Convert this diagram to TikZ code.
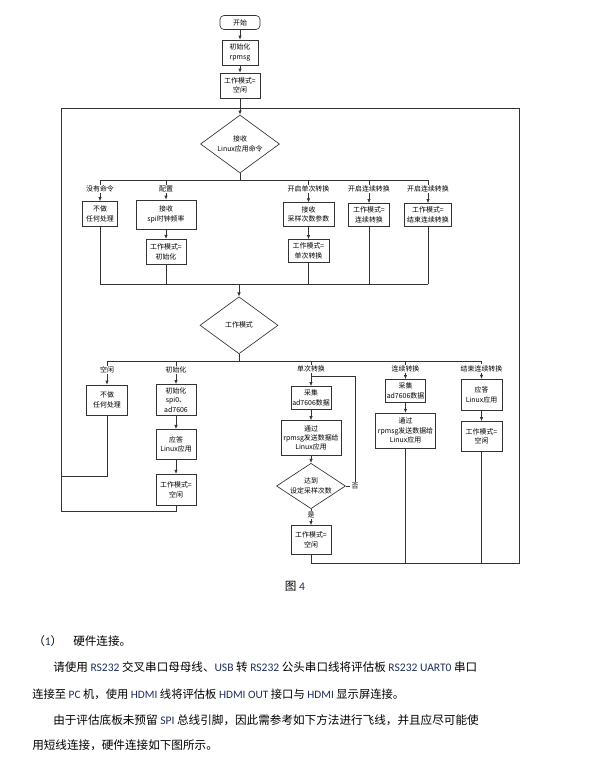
\documentclass[tikz,border=0pt]{standalone}
\usepackage{fontspec}
\setmainfont{Noto Sans CJK SC}
\newfontfamily\latfont{Carlito}
\usetikzlibrary{shapes.geometric,arrows.meta}
\definecolor{latblue}{RGB}{30,45,90}
\newcommand{\en}[1]{{\latfont\color{latblue}#1}}

\begin{document}
\begin{tikzpicture}[x=0.75pt, y=-0.75pt,
    line/.style={draw=black!80, line width=0.5pt},
    arr/.style={line, -{Latex[length=3pt,width=2.6pt]}},
    sz/.style 2 args={minimum width={#1*0.75pt}, minimum height={#2*0.75pt}},
    box/.style={line, align=center, inner sep=0pt, font=\fontsize{5.2}{7}\selectfont},
    dia/.style={box, diamond, aspect=1.4},
    lbl/.style={inner sep=0.6pt, font=\fontsize{5.2}{6}\selectfont},
    body/.style={anchor=base west, inner sep=0pt, font=\fontsize{8.7}{11}\selectfont}]
    \useasboundingbox (0,0) rectangle (595,764);

    % start and command loop
    \node[box, rounded corners=3pt, sz={40}{14}] (start) at (240,22.5) {开始};
    \node[box, sz={36}{25}] (init) at (240,52.5) {初始化\\rpmsg};
    \node[box, sz={40}{25}] (idle) at (240,85.5) {工作模式=\\空闲};
    \node[dia, sz={79}{58}] (cmd) at (240,144) {接收\\Linux应用命令};
    \draw[arr] (start) -- (init);
    \draw[arr] (init) -- (idle);
    \draw[arr] (idle) -- (cmd);

    \coordinate (br1) at (240,180);
    \node[lbl] (la) at (100,189) {没有命令};
    \node[lbl] (lb) at (166,189) {配置};
    \node[lbl] (lc) at (308.5,189) {开启单次转换};
    \node[lbl] (ld) at (369,189) {开启连续转换};
    \node[lbl] (le) at (428,189) {开启连续转换};

    \node[box, sz={35}{25}] (nop1) at (100,214) {不做\\任何处理};
    \node[box, sz={60}{29}] (clk) at (166,214.5) {接收\\spi时钟频率};
    \node[box, sz={40}{25}] (modeinit) at (166,251.7) {工作模式=\\初始化};
    \node[box, sz={51}{24}] (cnt) at (308.5,214.7) {接收\\采样次数参数};
    \node[box, sz={41}{23}] (modeone) at (308.5,251) {工作模式=\\单次转换};
    \node[box, sz={41}{23}] (modecont) at (369,215) {工作模式=\\连续转换};
    \node[box, sz={47}{23}] (modeend) at (428,215) {工作模式=\\结束连续转换};

    \draw[line] (cmd.south) -- (br1);
    \draw[line] (la.north |- br1) -- (le.north |- br1);
    \foreach \l/\b in {la/nop1, lb/clk, lc/cnt, ld/modecont, le/modeend}{
        \draw[line] (\l.north) -- (\l.north |- br1);
        \draw[arr] (\l.south) -- (\b.north);
    }
    \draw[arr] (clk) -- (modeinit);
    \draw[arr] (cnt) -- (modeone);

    \coordinate (mg1) at (239,284.3);
    \foreach \b in {nop1, modeinit, modeone, modecont, modeend}
        \draw[line] (\b.south) -- (\b.south |- mg1);
    \draw[line] (nop1.south |- mg1) -- (modeend.south |- mg1);

    % work mode branches
    \node[dia, sz={78}{57}] (mode) at (239,325.3) {工作模式};
    \draw[arr] (mg1) -- (mode.north);

    \coordinate (br2) at (239,361);
    \node[lbl] (ma) at (107,370) {空闲};
    \node[lbl] (mb) at (176,370) {初始化};
    \node[lbl] (mc) at (311,369) {单次转换};
    \node[lbl] (md) at (405.5,369) {连续转换};
    \node[lbl] (me) at (481.5,368.5) {结束连续转换};

    \node[box, sz={41}{30}] (nop2) at (107,400) {不做\\任何处理};
    \node[box, sz={40}{31}] (spi) at (176,400) {初始化\\spi0、\\ad7606};
    \node[box, sz={40}{30}] (ack1) at (176,444.3) {应答\\Linux应用};
    \node[box, sz={40}{31}] (idle1) at (176,489.7) {工作模式=\\空闲};

    \node[box, sz={40}{23}] (samp1) at (311,398) {采集\\ad7606数据};
    \node[box, sz={60}{35}] (send1) at (311,438) {通过\\rpmsg发送数据给\\Linux应用};
    \node[dia, sz={69}{37}] (done) at (311,486) {达到\\设定采样次数};
    \node[box, sz={40}{29}] (idle2) at (311,540) {工作模式=\\空闲};
    \node[lbl] (no) at (355,486) {否};
    \node[lbl] (yes) at (311,515) {是};

    \node[box, sz={40}{23}] (samp2) at (405.5,391) {采集\\ad7606数据};
    \node[box, sz={60}{35}] (send2) at (405.5,430.7) {通过\\rpmsg发送数据给\\Linux应用};

    \node[box, sz={41}{31}] (ack2) at (481.5,394.7) {应答\\Linux应用};
    \node[box, sz={41}{30}] (idle3) at (481.5,436.5) {工作模式=\\空闲};

    \draw[line] (mode.south) -- (br2);
    \draw[line] (ma.north |- br2) -- (me.north |- br2);
    \foreach \l/\b in {ma/nop2, mb/spi, mc/samp1, md/samp2, me/ack2}{
        \draw[line] (\l.north) -- (\l.north |- br2);
        \draw[arr] (\l.south) -- (\b.north);
    }
    \draw[arr] (spi) -- (ack1);
    \draw[arr] (ack1) -- (idle1);
    \draw[arr] (samp1) -- (send1);
    \draw[arr] (send1) -- (done);
    \draw[line] (done.south) -- (yes.north);
    \draw[arr] (yes.south) -- (idle2.north);
    \draw[line] (done.east) -- (no.west);
    \coordinate (lp2) at (355,376.7);
    \draw[line] (no.north) -- (lp2) -- (lp2 -| samp1.north);
    \draw[arr] (samp2) -- (send2);
    \draw[arr] (ack2) -- (idle3);

    % outer loop back to the command
    \coordinate (tl) at (61,108);
    \coordinate (tr) at (519.5,108);
    \coordinate (bl) at (61,511.7);
    \coordinate (brr) at (519.5,563.3);
    \coordinate (lp1) at (61,476);
    \draw[line] (nop2.south) |- (lp1);
    \draw[line] (idle1.south) |- (bl);
    \draw[line] (bl) -- (tl) -- (tr) -- (brr) -| (idle2.south);
    \draw[line] (send2.south) -- (send2.south |- brr);
    \draw[line] (idle3.south) -- (idle3.south |- brr);

    % caption and body text
    \node[body, anchor=base] (cap) at (295,590.5) {图 \en{4}};
    \node[body] (p1) at (33,645.5) {\makebox[30pt][l]{（\en{1}）}硬件连接。};
    \node[body] (p2) at (53,671.5) {\resizebox{318pt}{!}{请使用 \en{RS232} 交叉串口母母线、\en{USB} 转 \en{RS232} 公头串口线将评估板 \en{RS232 UART0} 串口}};
    \node[body] (p3) at (32,698) {\resizebox{279pt}{!}{连接至 \en{PC} 机，使用 \en{HDMI} 线将评估板 \en{HDMI OUT} 接口与 \en{HDMI} 显示屏连接。}};
    \node[body] (p4) at (53,724) {由于评估底板未预留 \en{SPI} 总线引脚，因此需参考如下方法进行飞线，并且应尽可能使};
    \node[body] (p5) at (32,749) {用短线连接，硬件连接如下图所示。};
\end{tikzpicture}
\end{document}
